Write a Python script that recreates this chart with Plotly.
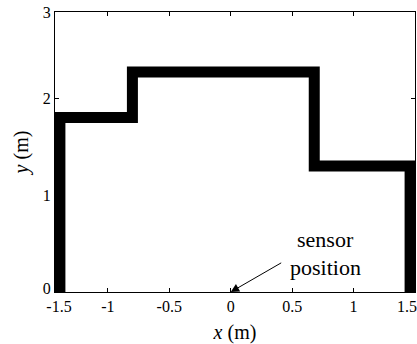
import plotly.graph_objects as go

# Outline of the room walls (m)
wall_x = [-1.39, -1.39, -0.8, -0.8, 0.68, 0.68, 1.46, 1.46]
wall_y = [0, 1.8, 1.8, 2.27, 2.27, 1.3, 1.3, 0]

# Sensor position (m)
sensor_x = [0]
sensor_y = [0]

# Axis ranges and tick labels (end labels sit on the frame edges)
x_range = [-1.43, 1.5]
y_range = [0, 2.89]
x_tickvals = [-1.43, -1, -0.5, 0, 0.5, 1, 1.499]
x_ticktext = ["&nbsp;&nbsp;-1.5", "-1", "-0.5", "0", "0.5", "1", "1.5&nbsp;&nbsp;&nbsp;&nbsp;"]
y_tickvals = [0.04, 1, 2, 2.889]
y_ticktext = ["0", "1", "2", "3"]

FONT = "'Liberation Serif', 'Times New Roman', Times, serif"

fig = go.Figure()
fig.add_trace(go.Scatter(
    x=wall_x, y=wall_y, mode="lines",
    line=dict(color="black", width=11),
    showlegend=False, hoverinfo="skip",
))

fig.add_annotation(
    x=sensor_x[0], y=sensor_y[0], xref="x", yref="y",
    ax=52, ay=-30, axref="pixel", ayref="pixel",
    text="", showarrow=True, arrowhead=2, arrowsize=1.7,
    arrowwidth=1, arrowcolor="black", standoff=0,
)
fig.add_annotation(
    x=0.768, y=0.537, xref="x", yref="y", text="sensor",
    showarrow=False, font=dict(family=FONT, size=22, color="black"),
    xanchor="center", yanchor="middle",
)
fig.add_annotation(
    x=0.768, y=0.258, xref="x", yref="y", text="position",
    showarrow=False, font=dict(family=FONT, size=22, color="black"),
    xanchor="center", yanchor="middle",
)

axis_common = dict(
    showline=True, linecolor="black", linewidth=1, mirror="ticks",
    ticks="inside", ticklen=4, tickcolor="black", tickwidth=1,
    showgrid=False, zeroline=False, automargin=False,
    ticklabeloverflow="allow",
    tickfont=dict(family=FONT, size=16, color="black"),
)

fig.update_xaxes(
    range=x_range, tickmode="array", tickvals=x_tickvals, ticktext=x_ticktext,
    title=dict(text="<i>x</i> (m)", font=dict(family=FONT, size=20, color="black"), standoff=18),
    **axis_common,
)
fig.update_yaxes(
    range=y_range, tickmode="array", tickvals=y_tickvals, ticktext=y_ticktext,
    title=dict(text="<i>y</i> (m)", font=dict(family=FONT, size=20, color="black"), standoff=8),
    **axis_common,
)

fig.update_layout(
    width=417, height=344, autosize=False,
    margin=dict(l=55, r=2, t=12, b=52),
    plot_bgcolor="white", paper_bgcolor="white",
    font=dict(family=FONT, color="black"),
)

# Remove the page's default body margin so the figure fills the window.
fig.write_html(
    "out.html",
    config={"displayModeBar": False},
    post_script="document.body.style.margin='0';"
                "document.documentElement.style.overflow='hidden';",
)
